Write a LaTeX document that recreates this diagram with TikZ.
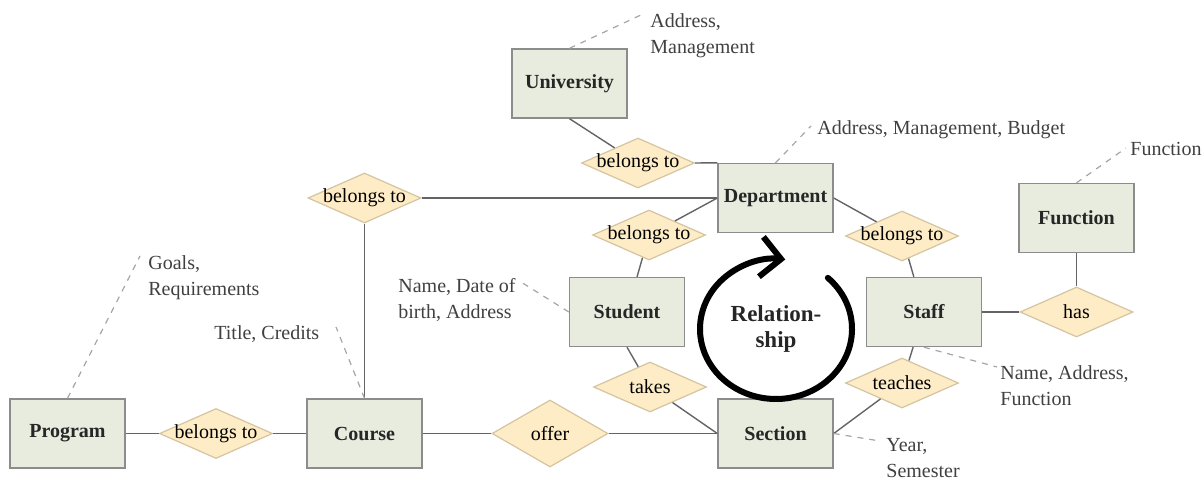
\documentclass[tikz,border=0pt]{standalone}
\usepackage{fontspec}
\setmainfont{Liberation Serif}
\usetikzlibrary{shapes.geometric,arrows.meta}

\definecolor{entfill}{RGB}{232,236,222}
\definecolor{entline}{RGB}{140,140,140}
\definecolor{relfill}{RGB}{254,236,198}
\definecolor{relline}{RGB}{212,196,160}
\definecolor{linkgray}{RGB}{100,100,100}
\definecolor{dashgray}{RGB}{165,165,165}

\tikzset{
    entity/.style={draw=entline, fill=entfill, line width=0.7pt,
        minimum width=57.5pt, minimum height=34.5pt, inner sep=0pt,
        font=\bfseries, text=black!85},
    relation/.style={diamond, draw=relline, fill=relfill, line width=0.6pt,
        minimum width=56.5pt, minimum height=25pt, inner sep=0pt},
    attr/.style={align=left, inner sep=0pt, anchor=base west,
        text=black!75, font=\fontsize{10}{13}\selectfont},
    link/.style={draw=linkgray, line width=0.7pt},
    attrlink/.style={draw=dashgray, dashed, line width=0.6pt}
}

\begin{document}
\begin{tikzpicture}[x=0.5pt,y=-0.5pt]
    \useasboundingbox (0,0) rectangle (1203,482);

    % Entities
    \node[entity] (univ)    at (569.5,83.5) {University};
    \node[entity] (dept)    at (775.5,198)  {Department};
    \node[entity] (student) at (627,312)    {Student};
    \node[entity] (staff)   at (924,312)    {Staff};
    \node[entity] (func)    at (1076.5,218) {Function};
    \node[entity] (program) at (67.5,433.5) {Program};
    \node[entity] (course)  at (364.5,433.5) {Course};
    \node[entity] (section) at (775.5,433.5) {Section};

    % Relations
    \node[relation, label=center:{belongs to}] (ub) at (638,163) {};
    \node[relation, label=center:{belongs to}] (cb) at (364.5,198) {};
    \node[relation, label=center:{belongs to}] (sb) at (649,235) {};
    \node[relation, label=center:{belongs to}] (tb) at (902,236) {};
    \node[relation, label=center:{belongs to}] (pb) at (216,433.5) {};
    \node[relation, label=center:{has}]     (has)   at (1076.5,312) {};
    \node[relation, label=center:{takes}]   (takes) at (650,387) {};
    \node[relation, label=center:{teaches}] (teach) at (902,383) {};
    \node[relation, minimum width=58pt, minimum height=33.5pt,
        label=center:{offer}] (offer) at (550,433.5) {};

    % Connections
    \draw[link] (univ.south) -- (ub);
    \draw[link] (ub.east) -- (dept.north west);
    \draw[link] (cb) -- (dept);
    \draw[link] (cb) -- (course);
    \draw[link] (dept.west) -- (sb);
    \draw[link] (sb) -- (student);
    \draw[link] (dept.east) -- (tb);
    \draw[link] (tb) -- (staff);
    \draw[link] (staff) -- (has);
    \draw[link] (func) -- (has);
    \draw[link] (staff) -- (teach);
    \draw[link] (teach) -- (section.east);
    \draw[link] (student.south) -- (takes);
    \draw[link] (takes) -- (section.west);
    \draw[link] (program) -- (pb) -- (course) -- (offer) -- (section);

    % Attributes (base = last line)
    \node[attr] (univattr) at (650,53) {Address,\\Management};
    \node[attr] (deptattr) at (817,134) {Address, Management, Budget};
    \node[attr] (funcattr) at (1130,155) {Function};
    \node[attr] (progattr) at (148,295) {Goals,\\Requirements};
    \node[attr] (courattr) at (214,339) {Title, Credits};
    \node[attr] (studattr) at (398,318) {Name, Date of\\birth, Address};
    \node[attr] (staffattr) at (1000,405) {Name, Address,\\Function};
    \node[attr] (sectattr) at (886,477) {Year,\\Semester};

    \coordinate (ua) at (643,14);
    \coordinate (da) at (811,126);
    \coordinate (fa) at (1126,148);
    \coordinate (pa) at (140,256);
    \coordinate (ca) at (336,327);
    \coordinate (sa) at (521,282);
    \coordinate (ta) at (997,367);
    \coordinate (ya) at (880,441);

    \draw[attrlink] (univ.north) -- (ua);
    \draw[attrlink] (dept.north) -- (da);
    \draw[attrlink] (func.north) -- (fa);
    \draw[attrlink] (program.north) -- (pa);
    \draw[attrlink] (course.north) -- (ca);
    \draw[attrlink] (student.west) -- (sa);
    \draw[attrlink] (staff.south) -- (ta);
    \draw[attrlink] (section.east) -- (ya);

    % Relationship cycle
    \node[align=center, inner sep=0pt, text=black!85,
        font=\fontsize{11.5}{13}\selectfont\bfseries] (rel) at (776,329) {Relation-\\ship};
    \draw[line width=3pt, line cap=round, -{Straight Barb[length=10pt,width=20pt]}]
        ([shift={(-47:76 and 70)}]rel.center) arc[start angle=-47, end angle=277, x radius=76, y radius=70];

\end{tikzpicture}
\end{document}
